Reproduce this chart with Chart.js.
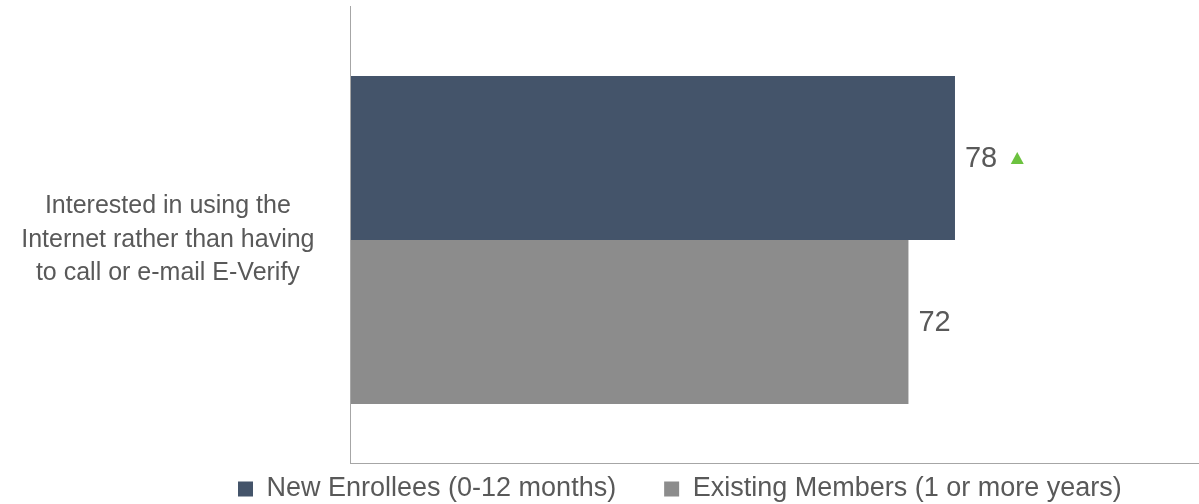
<!DOCTYPE html>
<html>
<head>
<meta charset="utf-8">
<script src="https://cdn.jsdelivr.net/npm/chart.js@4/dist/chart.umd.min.js"></script>
<style>
  html, body { margin: 0; padding: 0; background: #ffffff; }
  #wrap { width: 1199px; height: 504px; position: relative; }
</style>
</head>
<body>
<div id="wrap"><canvas id="c"></canvas></div>
<script>
const categories = [["Interested in using the", "Internet rather than having", "to call or e-mail E-Verify"]];
const seriesNames = ["New Enrollees (0-12 months)", "Existing Members (1 or more years)"];
const newEnrollees = [78];
const existingMembers = [72];
const significantUp = [true, false];
const seriesColors = ["#44546A", "#8C8C8C"];

const FONT = '"Liberation Sans", Arial, sans-serif';

const labelPlugin = {
  id: 'valueLabels',
  afterDatasetsDraw(chart) {
    const ctx = chart.ctx;
    ctx.save();
    ctx.font = '29px ' + FONT;
    ctx.fillStyle = '#595959';
    ctx.textBaseline = 'middle';
    ctx.textAlign = 'left';
    chart.data.datasets.forEach((ds, di) => {
      const meta = chart.getDatasetMeta(di);
      meta.data.forEach((bar, i) => {
        const txt = String(ds.data[i]);
        const x = bar.x + 10;
        const y = bar.y + 1;
        ctx.fillText(txt, x, y);
        if (significantUp[di]) {
          const w = ctx.measureText(txt).width;
          const tx = x + w + 20;
          ctx.fillStyle = '#6CC23F';
          ctx.beginPath();
          ctx.moveTo(tx - 6.5, y + 5);
          ctx.lineTo(tx + 6.5, y + 5);
          ctx.lineTo(tx, y - 7);
          ctx.closePath();
          ctx.fill();
          ctx.fillStyle = '#595959';
        }
      });
    });
    ctx.restore();
  }
};

// y axis line drawn over the full plot height (starts a bit above the category band, as in the original)
const axisLine = {
  id: 'axisLine',
  afterDatasetsDraw(chart) {
    const ctx = chart.ctx, a = chart.chartArea;
    ctx.save();
    ctx.strokeStyle = '#A6A6A6';
    ctx.lineWidth = 1;
    ctx.beginPath();
    ctx.moveTo(a.left + 0.5, 6);
    ctx.lineTo(a.left + 0.5, a.bottom);
    ctx.stroke();
    ctx.restore();
  }
};

const legendPlace = {
  id: 'legendPlace',
  beforeLayout(chart) {
    const lg = chart.legend;
    if (lg && !lg._patched) {
      const f = lg.fit.bind(lg);
      lg.fit = function () { f(); this.height = 41; };
      lg._patched = true;
    }
  },
  afterLayout(chart) {
    const lg = chart.legend;
    const pad = lg.options.labels.padding;
    const lw = lg.lineWidths[0];
    const startX = 238;
    lg.left = 0;
    lg.right = 2 * startX - pad + lw;
    lg.width = lg.right - lg.left;
    const fs = lg.options.labels.font.size;
    const desiredCenter = 489;
    const newTop = desiredCenter - pad - fs / 2;
    lg.top = newTop;
    lg.bottom = chart.height;
    lg.height = lg.bottom - lg.top;
  }
};

new Chart(document.getElementById('c'), {
  type: 'bar',
  data: {
    labels: categories,
    datasets: [
      { label: seriesNames[0], data: newEnrollees, backgroundColor: seriesColors[0], borderWidth: 0 },
      { label: seriesNames[1], data: existingMembers, backgroundColor: seriesColors[1], borderWidth: 0 }
    ]
  },
  options: {
    indexAxis: 'y',
    responsive: true,
    maintainAspectRatio: false,
    animation: false,
    categoryPercentage: 0.7354,
    barPercentage: 1,
    layout: { padding: { top: 17, right: 0, left: 0, bottom: 0 } },
    scales: {
      x: {
        min: 0,
        max: 109.46,
        ticks: { display: false },
        grid: { display: false, drawTicks: false },
        border: { display: true, color: '#A6A6A6', width: 1 },
        afterFit(scale) { scale.height = 0; scale.paddingLeft = 0; scale.paddingRight = 0; }
      },
      y: {
        ticks: {
          color: '#595959',
          font: { family: FONT, size: 25, lineHeight: 1.34 },
          crossAlign: 'center',
          padding: 35.5
        },
        grid: { display: false, drawTicks: false },
        border: { display: false },
        afterFit(scale) { scale.width = 350; scale.paddingTop = 0; scale.paddingBottom = 0; }
      }
    },
    plugins: {
      legend: {
        position: 'bottom',
        labels: {
          boxWidth: 15,
          boxHeight: 15,
          padding: 48,
          color: '#595959',
          font: { family: FONT, size: 27 }
        }
      },
      tooltip: { enabled: false }
    }
  },
  plugins: [labelPlugin, axisLine, legendPlace]
});
</script>
</body>
</html>
